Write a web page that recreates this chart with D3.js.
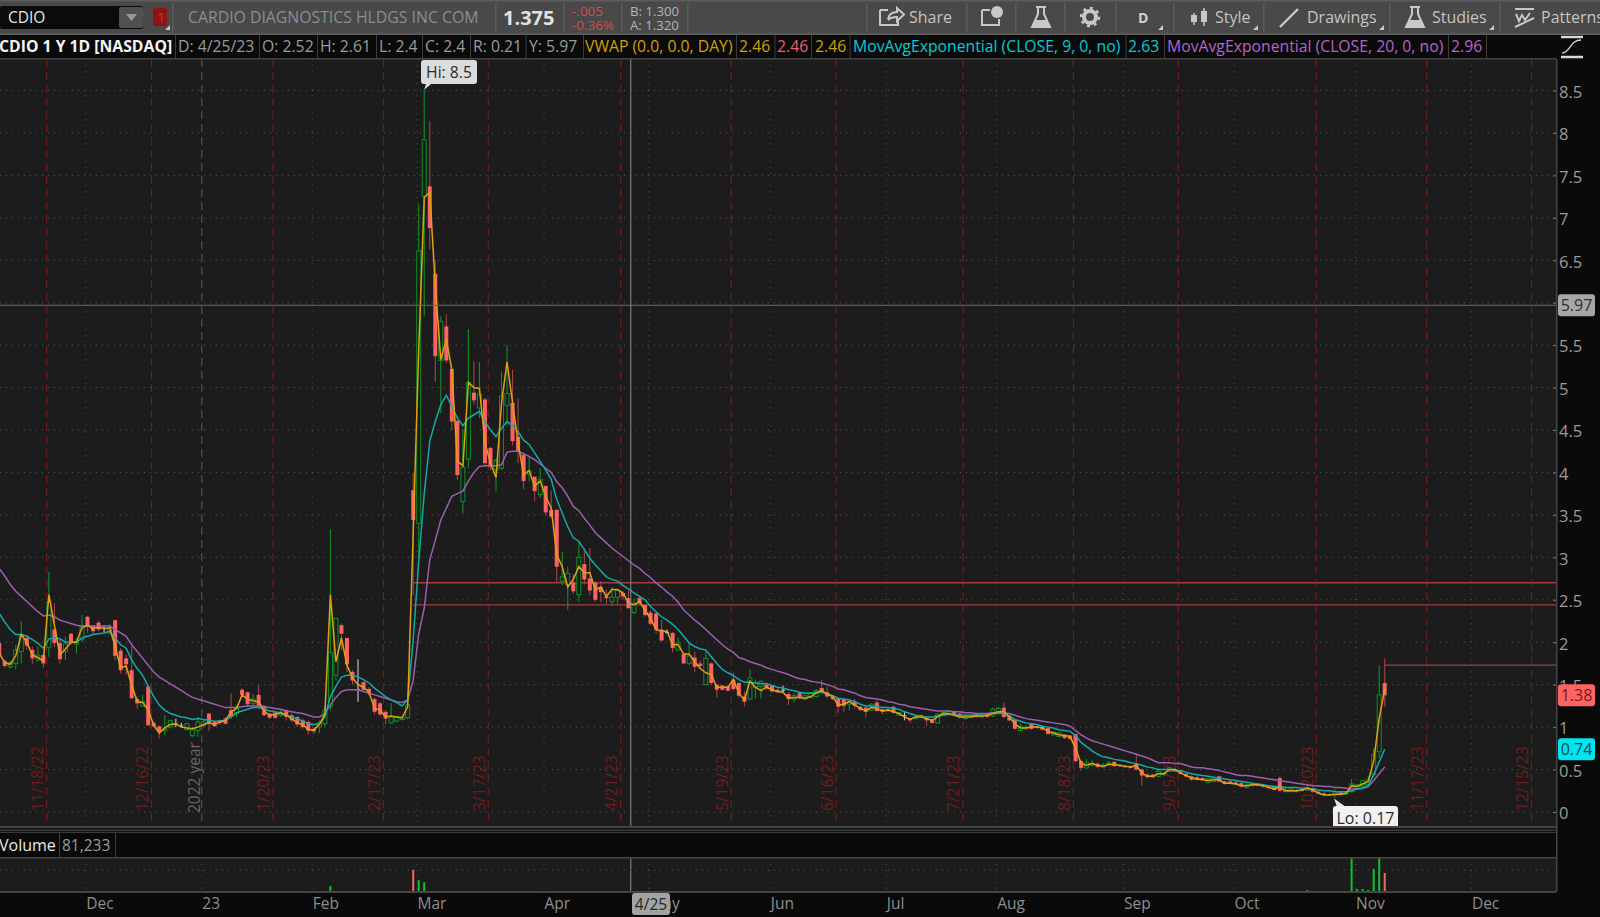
<!DOCTYPE html>
<html><head><meta charset="utf-8">
<script src="https://cdn.jsdelivr.net/npm/d3@7/dist/d3.min.js"></script>
<style>
html,body{margin:0;padding:0;background:#0a0a0a;overflow:hidden}
svg{display:block;font-family:"Open Sans",sans-serif}
</style></head><body>
<svg id="c" width="1600" height="917"></svg>
<script>
const open=[1.99,1.78,1.71,1.75,1.89,2.05,1.91,1.79,1.85,1.94,
2.15,1.99,1.89,2.10,1.98,2.03,2.30,2.19,2.23,2.17,
2.11,2.26,1.90,1.81,1.67,1.33,1.25,1.48,1.05,1.01,
.96,1.00,1.04,1.02,.97,.90,.96,1.02,1.16,1.06,
1.08,1.10,1.20,1.16,1.44,1.41,1.28,1.38,1.25,1.16,
1.17,1.14,1.20,1.14,1.12,1.08,1.06,.98,1.00,1.04,
1.24,1.61,2.20,2.05,1.65,1.45,1.53,1.45,1.33,1.28,
1.18,1.05,1.07,1.09,1.11,3.79,3.40,7.25,7.37,6.34,
5.32,5.72,5.22,4.61,3.66,4.16,4.94,4.76,4.86,4.29,
4.03,4.05,4.79,4.82,4.42,4.21,3.98,3.95,3.74,3.84,
3.56,3.56,2.72,2.68,2.70,2.56,2.92,2.75,2.70,2.65,
2.54,2.48,2.53,2.58,2.52,2.35,2.52,2.44,2.35,2.34,
2.15,2.12,2.11,1.91,1.86,1.75,1.82,1.75,1.50,1.75,
1.50,1.49,1.48,1.56,1.52,1.36,1.33,1.47,1.48,1.50,
1.49,1.44,1.44,1.39,1.33,1.40,1.33,1.35,1.36,1.46,
1.41,1.37,1.34,1.33,1.27,1.30,1.24,1.23,1.20,1.29,
1.21,1.21,1.24,1.14,1.14,1.10,1.10,1.14,1.11,1.09,
1.05,1.14,1.16,1.19,1.16,1.10,1.12,1.15,1.12,1.16,
1.13,1.18,1.23,1.14,1.09,.96,.98,1.04,1.01,1.01,
.99,.91,.89,.91,.90,.92,.60,.52,.55,.57,
.53,.57,.59,.55,.54,.54,.57,.50,.44,.44,
.42,.44,.48,.48,.48,.45,.42,.41,.40,.35,
.36,.42,.36,.36,.35,.34,.29,.31,.33,.31,
.30,.30,.40,.24,.24,.26,.27,.26,.28,.24,
.22,.21,.20,.23,.21,.24,.28,.30,.32,.44,.71,1.52];
const high=[2.02,1.80,1.78,1.97,2.25,2.09,1.95,1.95,1.87,2.83,
2.46,2.03,2.07,2.11,2.05,2.32,2.31,2.20,2.25,2.20,
2.22,2.26,1.93,1.85,1.95,1.36,1.38,1.49,1.07,1.02,
1.14,1.08,1.10,1.05,1.05,1.00,1.12,1.09,1.16,1.07,
1.09,1.12,1.40,1.26,1.46,1.42,1.39,1.50,1.26,1.17,
1.18,1.20,1.21,1.16,1.13,1.10,1.08,1.00,1.08,1.25,
3.33,2.28,2.22,2.05,1.67,1.80,1.54,1.47,1.35,1.30,
1.20,1.28,1.13,1.12,1.27,4.00,7.16,8.51,8.14,6.50,
5.84,5.86,5.22,4.61,4.51,5.69,5.31,5.30,4.88,4.30,
4.16,5.19,5.50,5.21,4.87,4.21,4.19,3.95,4.05,3.85,
3.79,3.56,3.07,2.89,2.80,3.18,3.11,3.11,2.72,2.72,
2.62,2.65,2.62,2.60,2.61,2.52,2.54,2.45,2.38,2.35,
2.26,2.15,2.12,2.05,1.87,1.99,1.89,1.78,1.90,1.76,
1.50,1.50,1.49,1.64,1.53,1.42,1.68,1.56,1.55,1.53,
1.50,1.46,1.49,1.41,1.40,1.41,1.38,1.41,1.45,1.56,
1.47,1.38,1.35,1.34,1.32,1.33,1.25,1.24,1.28,1.31,
1.22,1.22,1.25,1.18,1.19,1.11,1.13,1.15,1.12,1.10,
1.16,1.18,1.20,1.20,1.17,1.14,1.15,1.16,1.15,1.17,
1.23,1.24,1.29,1.15,1.10,1.04,1.02,1.05,1.02,1.02,
1.00,.95,.94,.92,.91,.92,.61,.62,.61,.58,
.58,.60,.60,.56,.55,.55,.68,.51,.45,.45,
.50,.47,.53,.52,.49,.46,.43,.42,.41,.40,
.41,.43,.37,.37,.36,.35,.33,.34,.34,.32,
.31,.31,.42,.30,.28,.27,.28,.33,.29,.25,
.23,.22,.27,.24,.24,.39,.33,.38,.42,.75,1.73,1.81];
const low=[1.82,1.70,1.69,1.68,1.75,1.91,1.74,1.77,1.70,1.83,
1.94,1.75,1.79,1.97,1.87,2.00,2.11,2.10,2.13,2.12,
2.09,1.79,1.63,1.61,1.33,1.22,1.24,1.02,1.00,.87,
.91,.98,1.00,1.00,.96,.88,.89,1.00,.95,1.00,
1.03,1.03,1.10,1.12,1.36,1.25,1.26,1.24,1.13,1.10,
1.10,1.12,1.08,1.06,1.00,.98,.91,.92,.93,1.00,
1.20,1.55,1.90,1.65,1.50,1.30,1.42,1.37,1.15,1.13,
1.03,1.04,1.06,1.08,1.10,2.55,3.00,5.84,6.63,5.07,
4.70,5.29,4.50,3.91,3.52,4.05,4.80,4.64,4.07,4.03,
3.78,4.03,4.55,4.32,4.11,3.80,3.90,3.66,3.70,3.50,
3.46,2.70,2.67,2.38,2.57,2.48,2.68,2.55,2.48,2.47,
2.45,2.43,2.44,2.50,2.40,2.33,2.44,2.30,2.20,2.10,
2.01,2.10,1.88,1.90,1.74,1.73,1.65,1.70,1.49,1.49,
1.35,1.43,1.42,1.43,1.35,1.24,1.32,1.34,1.34,1.44,
1.41,1.40,1.40,1.26,1.29,1.33,1.32,1.34,1.35,1.40,
1.35,1.32,1.17,1.18,1.20,1.22,1.19,1.12,1.19,1.18,
1.15,1.18,1.16,1.13,1.08,1.05,1.09,1.11,1.01,1.04,
1.04,1.13,1.15,1.13,1.10,1.09,1.11,1.11,1.11,1.11,
1.12,1.17,1.11,1.07,.97,.95,.97,.97,.98,.96,
.91,.90,.88,.86,.85,.58,.49,.51,.54,.52,
.52,.56,.53,.53,.52,.51,.49,.31,.40,.40,
.41,.43,.47,.47,.44,.41,.37,.37,.37,.34,
.35,.35,.32,.33,.32,.29,.28,.30,.30,.29,
.27,.25,.24,.23,.23,.23,.24,.25,.23,.21,
.19,.19,.17,.19,.20,.23,.27,.29,.31,.41,.64,1.24];
const close=[1.83,1.72,1.76,1.91,2.09,1.96,1.81,1.85,1.75,2.48,
1.99,1.80,1.98,1.99,2.00,2.19,2.19,2.13,2.15,2.17,
2.17,1.84,1.67,1.74,1.34,1.28,1.30,1.02,1.01,.95,
.98,1.08,1.04,1.02,1.04,.97,1.06,1.06,1.04,1.01,
1.05,1.04,1.12,1.22,1.38,1.27,1.33,1.25,1.14,1.11,
1.11,1.18,1.12,1.08,1.03,1.00,.96,.95,1.05,1.20,
1.88,2.28,2.10,1.74,1.55,1.45,1.44,1.40,1.18,1.15,
1.10,1.12,1.12,1.11,1.26,3.44,6.61,7.92,6.88,5.37,
5.78,5.32,4.60,3.97,4.06,5.06,4.85,4.92,4.11,4.07,
4.14,4.90,4.93,4.37,4.25,3.90,4.02,3.78,3.92,3.53,
3.48,2.89,2.77,2.81,2.60,3.00,2.74,2.61,2.50,2.59,
2.52,2.53,2.61,2.54,2.40,2.46,2.46,2.32,2.22,2.15,
2.02,2.12,1.93,1.99,1.75,1.84,1.71,1.72,1.81,1.52,
1.44,1.44,1.43,1.45,1.37,1.30,1.58,1.52,1.54,1.46,
1.42,1.41,1.44,1.33,1.37,1.34,1.37,1.40,1.43,1.41,
1.36,1.33,1.24,1.25,1.30,1.25,1.20,1.18,1.27,1.19,
1.18,1.19,1.17,1.17,1.14,1.08,1.12,1.12,1.08,1.05,
1.15,1.17,1.19,1.14,1.12,1.13,1.14,1.12,1.14,1.12,
1.21,1.22,1.12,1.08,.98,1.01,1.00,.98,.99,.97,
.92,.94,.93,.87,.86,.60,.52,.58,.57,.53,
.55,.58,.54,.54,.53,.52,.50,.43,.41,.41,
.48,.46,.52,.50,.45,.42,.38,.38,.38,.39,
.40,.36,.33,.34,.33,.30,.32,.33,.31,.30,
.28,.26,.25,.26,.27,.24,.25,.29,.24,.22,
.20,.20,.24,.20,.23,.33,.32,.37,.38,.67,1.38,1.375];
const vwap=[1.87,1.76,1.74,1.84,2.09,2.0,1.85,1.82,1.78,2.56,
2.2,1.85,1.92,2.0,2.0,2.17,2.2,2.16,2.18,2.16,
2.17,1.95,1.7,1.72,1.5,1.3,1.29,1.2,1.02,.93,
.99,1.03,1.04,1.0,.99,.98,1.0,1.03,1.05,1.03,
1.06,1.08,1.18,1.22,1.38,1.33,1.31,1.3,1.19,1.14,
1.15,1.17,1.14,1.1,1.05,1.03,.97,.97,1.03,1.15,
2.56,1.77,2.05,1.73,1.58,1.5,1.47,1.41,1.22,1.2,
1.12,1.13,1.12,1.11,1.24,3.29,5.45,7.24,7.3,6.2,
5.33,5.57,5.21,4.13,4.08,5.06,5.0,4.99,4.35,4.11,
3.94,4.82,5.3,4.82,4.35,3.97,4.02,3.84,3.9,3.72,
3.58,3.03,2.89,2.65,2.74,2.89,2.82,2.82,2.62,2.65,
2.54,2.62,2.62,2.58,2.46,2.44,2.48,2.38,2.28,2.15,
2.13,2.13,1.97,1.97,1.86,1.86,1.77,1.69,1.64,1.62,
1.47,1.47,1.47,1.56,1.4,1.32,1.54,1.47,1.43,1.47,
1.44,1.42,1.41,1.34,1.35,1.35,1.34,1.36,1.4,1.43,
1.39,1.36,1.26,1.27,1.3,1.26,1.22,1.19,1.23,1.22,
1.19,1.2,1.18,1.16,1.12,1.09,1.12,1.12,1.1,1.08,
1.12,1.16,1.16,1.14,1.12,1.12,1.12,1.13,1.13,1.14,
1.16,1.18,1.18,1.12,1.04,.99,.99,1.0,1.0,.99,
.95,.93,.91,.9,.89,.75,.57,.55,.57,.55,
.54,.56,.56,.55,.54,.53,.55,.46,.42,.42,
.45,.45,.5,.5,.46,.43,.4,.39,.38,.37,
.38,.38,.34,.34,.33,.31,.31,.32,.32,.31,
.29,.27,.3,.25,.25,.25,.26,.28,.26,.22,
.2,.2,.21,.21,.22,.31,.3,.33,.36,.6,1.1,1.45];
const ema9=[2.34,2.24,2.15,2.09,2.09,2.07,2.03,1.99,1.93,2.04,
2.05,2.04,2.0,2.0,2.0,2.05,2.07,2.09,2.1,2.11,
2.13,2.05,1.97,1.93,1.79,1.69,1.61,1.48,1.36,1.26,
1.2,1.16,1.14,1.12,1.11,1.09,1.1,1.09,1.08,1.07,
1.07,1.08,1.12,1.17,1.19,1.21,1.23,1.23,1.21,1.19,
1.18,1.16,1.14,1.12,1.1,1.07,1.04,1.03,1.04,1.12,
1.36,1.48,1.59,1.61,1.61,1.59,1.56,1.52,1.46,1.41,
1.36,1.32,1.29,1.25,1.32,2.03,2.95,3.75,4.37,4.6,
4.8,4.91,4.78,4.64,4.55,4.64,4.68,4.72,4.6,4.5,
4.42,4.52,4.6,4.55,4.48,4.38,4.33,4.23,4.13,4.03,
3.92,3.68,3.52,3.36,3.23,3.19,3.09,2.99,2.91,2.84,
2.77,2.74,2.72,2.67,2.63,2.58,2.54,2.5,2.42,2.36,
2.3,2.26,2.21,2.15,2.07,1.99,1.95,1.92,1.91,1.83,
1.75,1.68,1.64,1.61,1.56,1.53,1.53,1.52,1.51,1.51,
1.49,1.47,1.46,1.44,1.43,1.41,1.4,1.4,1.41,1.41,
1.39,1.37,1.34,1.33,1.32,1.3,1.27,1.25,1.25,1.24,
1.23,1.23,1.22,1.21,1.18,1.16,1.14,1.13,1.12,1.12,
1.13,1.14,1.15,1.15,1.14,1.14,1.14,1.14,1.14,1.14,
1.16,1.16,1.16,1.13,1.09,1.07,1.05,1.04,1.03,1.01,
1.0,.99,.97,.96,.95,.9,.82,.77,.72,.68,
.65,.64,.62,.61,.6,.58,.57,.55,.53,.52,
.5,.5,.5,.49,.49,.47,.45,.44,.43,.42,
.41,.4,.39,.38,.37,.36,.35,.34,.33,.32,
.31,.3,.3,.29,.29,.29,.28,.28,.27,.26,
.25,.25,.24,.24,.24,.25,.27,.28,.31,.44,.59,.74];
const ema20=[2.87,2.78,2.68,2.6,2.54,2.48,2.42,2.36,2.31,2.32,
2.3,2.26,2.24,2.22,2.2,2.19,2.19,2.19,2.19,2.19,
2.19,2.15,2.11,2.07,1.97,1.89,1.81,1.73,1.65,1.59,
1.55,1.51,1.47,1.43,1.39,1.35,1.33,1.31,1.29,1.27,
1.25,1.23,1.23,1.23,1.24,1.25,1.25,1.25,1.24,1.23,
1.22,1.21,1.19,1.18,1.17,1.16,1.14,1.12,1.12,1.16,
1.26,1.35,1.42,1.44,1.44,1.44,1.42,1.4,1.38,1.36,
1.34,1.32,1.3,1.29,1.32,1.55,2.1,2.4,2.97,3.2,
3.44,3.58,3.72,3.75,3.78,3.9,4.0,4.07,4.08,4.08,
4.08,4.09,4.24,4.25,4.25,4.22,4.19,4.15,4.1,4.05,
4.0,3.89,3.82,3.72,3.6,3.55,3.46,3.38,3.29,3.23,
3.17,3.11,3.06,3.01,2.96,2.91,2.87,2.81,2.76,2.7,
2.65,2.59,2.54,2.47,2.38,2.32,2.26,2.21,2.15,2.09,
2.03,1.97,1.92,1.88,1.82,1.8,1.77,1.75,1.73,1.7,
1.68,1.66,1.64,1.62,1.59,1.57,1.56,1.54,1.53,1.52,
1.5,1.48,1.45,1.44,1.42,1.4,1.37,1.35,1.34,1.33,
1.32,1.3,1.29,1.27,1.26,1.24,1.23,1.22,1.21,1.2,
1.19,1.19,1.19,1.18,1.18,1.17,1.17,1.16,1.16,1.16,
1.17,1.17,1.17,1.16,1.14,1.12,1.1,1.09,1.08,1.07,
1.06,1.05,1.04,1.03,1.01,.96,.91,.87,.84,.82,
.8,.78,.76,.74,.72,.7,.68,.66,.64,.61,
.58,.58,.58,.57,.57,.55,.53,.52,.52,.51,
.5,.49,.47,.46,.44,.43,.43,.42,.41,.4,
.39,.38,.37,.36,.35,.34,.33,.32,.31,.31,
.3,.3,.29,.29,.28,.27,.27,.28,.3,.37,.45,.53];
const volumeBars=[9,60,75,76,77,78,237,242,245,246,247,248,249,250,251];
const volumeVals=[3,18,65,35,29,3,6,3,100,9,9,6,68,100,56];
const priceTicks=[0,.5,1,1.5,2,2.5,3,3.5,4,4.5,5,5.5,6,6.5,7,7.5,8,8.5];
const monthDates=["2022-12-01","2023-01-03","2023-02-01","2023-03-01","2023-04-03","2023-05-01","2023-06-01","2023-07-03","2023-08-01","2023-09-01","2023-10-02","2023-11-01","2023-12-01"];
const monthLabels=["Dec","23","Feb","Mar","Apr","May","Jun","Jul","Aug","Sep","Oct","Nov","Dec"];
const expiryDates=["2022-11-18","2022-12-16","2023-01-20","2023-02-17","2023-03-17","2023-04-21","2023-05-19","2023-06-16","2023-07-21","2023-08-18","2023-09-15","2023-10-20","2023-11-17","2023-12-15"];
const expiryLabels=["11/18/22","12/16/22","1/20/23","2/17/23","3/17/23","4/21/23","5/19/23","6/16/23","7/21/23","8/18/23","9/15/23","10/20/23","11/17/23","12/15/23"];
const holidays=["2022-11-24","2022-12-26","2023-01-02","2023-01-16","2023-02-20","2023-04-07","2023-05-29","2023-06-19","2023-07-04","2023-09-04","2023-11-23","2023-12-25"];
const levelValues=[2.70,2.44,1.73];
const levelStarts=[75,75,251];
const crosshairDate="2023-04-25", crosshairPrice=5.97;

// trading calendar
const fmt=d3.utcFormat("%Y-%m-%d");
const days=d3.utcDay.range(new Date(Date.UTC(2022,10,8)),new Date(Date.UTC(2023,11,30)))
  .filter(d=>d.getUTCDay()%6!==0&&!holidays.includes(fmt(d))).map(fmt);
const idx=d=>days.indexOf(d);

const W=1600,H=917,plotR=1556,mainTop=59,mainBot=827,volTop=858,volBot=892;
const x=d3.scaleLinear().domain([0,days.length-1]).range([-0.8,-0.8+5.52*(days.length-1)]);
const y=d3.scaleLinear().domain([0,8.5]).range([812,90.5]);
const yV=d3.scaleLinear().domain([0,100]).range([volBot,volTop]);
const svg=d3.select("#c");
const defs=svg.append("defs");
defs.append("clipPath").attr("id","mc").append("rect").attr("x",0).attr("y",mainTop).attr("width",plotR).attr("height",mainBot-mainTop);
defs.append("clipPath").attr("id","vc").append("rect").attr("x",0).attr("y",volTop).attr("width",plotR).attr("height",volBot-volTop);
defs.append("clipPath").attr("id","rc").append("rect").attr("x",plotR).attr("y",volTop).attr("width",44).attr("height",volBot-volTop+1);
svg.append("rect").attr("width",W).attr("height",H).attr("fill","#0a0a0a");
svg.append("rect").attr("y",mainTop).attr("width",plotR).attr("height",mainBot-mainTop).attr("fill","#1c1c1c");
svg.append("rect").attr("y",volTop).attr("width",plotR).attr("height",volBot-volTop).attr("fill","#1c1c1c");
const main=svg.append("g").attr("clip-path","url(#mc)");
const dots="1 5";
// grid
main.selectAll(".hg").data(priceTicks).join("line").attr("x1",0).attr("x2",plotR).attr("y1",d=>y(d)).attr("y2",d=>y(d)).attr("stroke","#555").attr("stroke-dasharray",dots);
const monthX=d=>x(idx(d)-0.3);
main.selectAll(".vg").data(monthDates).join("line").attr("x1",monthX).attr("x2",monthX).attr("y1",mainTop).attr("y2",mainBot)
  .attr("stroke",d=>d==="2023-01-03"?"#5a5a5a":"#4c4c4c").attr("stroke-dasharray",d=>d==="2023-01-03"?"8 5":dots);
const exX=d=>x(idx(d)+0.6);
main.selectAll(".ex").data(expiryDates).join("line").attr("x1",exX).attr("x2",exX).attr("y1",mainTop).attr("y2",mainBot).attr("stroke","#701c1c").attr("stroke-width",1.2).attr("stroke-dasharray","8 5");
main.selectAll(".exl").data(expiryDates).join("text").text((d,i)=>expiryLabels[i])
  .attr("transform",d=>`translate(${exX(d)-3.5},811) rotate(-90)`).attr("fill","#6e1c1c").attr("font-size",15.5);
main.append("text").text("2022 year").attr("transform",`translate(${monthX("2023-01-03")-2},813) rotate(-90)`).attr("fill","#666").attr("font-size",15.5);
// level lines
main.selectAll(".lv").data(levelValues).join("line").attr("x1",(d,i)=>x(levelStarts[i])).attr("x2",plotR).attr("y1",d=>y(d)).attr("y2",d=>y(d)).attr("stroke","#a23c40").attr("stroke-width",1.4);
// candles
const candles=d3.range(open.length);
const col=i=>close[i]>open[i]?"#0e8f26":close[i]<open[i]?"#ff6264":"#c8c8c8";
const wick=i=>close[i]>open[i]?"#0e8f26":close[i]<open[i]?"#a04446":"#c8c8c8";
main.selectAll(".w").data(candles).join("line").attr("x1",x).attr("x2",x).attr("y1",i=>y(high[i])).attr("y2",i=>y(low[i])).attr("stroke",wick).attr("stroke-width",1.1);
main.selectAll(".b").data(candles).join("rect")
  .attr("x",i=>x(i)-2).attr("width",4)
  .attr("y",i=>y(Math.max(open[i],close[i]))).attr("height",i=>Math.max(1,Math.abs(y(open[i])-y(close[i]))))
  .attr("fill",i=>close[i]>open[i]?"#1c1c1c":col(i)).attr("stroke",i=>close[i]>open[i]?col(i):"none").attr("stroke-width",1);
// studies
const line=a=>d3.line().x((d,i)=>x(i)).y(d=>y(d))(a);
main.append("path").attr("d",line(ema20)).attr("fill","none").attr("stroke","#9c5fae").attr("stroke-width",1.5);
main.append("path").attr("d",line(ema9)).attr("fill","none").attr("stroke","#14a9a8").attr("stroke-width",1.5);
main.append("path").attr("d",line(vwap)).attr("fill","none").attr("stroke","#dfa112").attr("stroke-width",1.5);
// crosshair
const chX=x(idx(crosshairDate)+0.42);
svg.append("line").attr("x1",0).attr("x2",plotR).attr("y1",y(crosshairPrice)).attr("y2",y(crosshairPrice)).attr("stroke","#6a6a6a");
svg.append("line").attr("x1",chX).attr("x2",chX).attr("y1",mainTop).attr("y2",volBot).attr("stroke","#8c8c8c");
// Lo callout, clipped by the pane edge
main.append("path").attr("d",`M${x(242)-1},${y(low[242])+1} L1337,807 L1346,807 Z`).attr("fill","#e4e4e4");
main.append("rect").attr("x",1333).attr("y",806).attr("width",65).attr("height",26).attr("rx",3).attr("fill","#f0f0f0");
main.append("text").text("Lo: 0.17").attr("x",1365.5).attr("y",824).attr("text-anchor","middle").attr("fill","#2a2a2a").attr("font-size",16);
// separators
svg.append("rect").attr("y",mainBot-1).attr("width",plotR).attr("height",2).attr("fill","#444");
svg.append("rect").attr("y",mainBot+1).attr("width",plotR).attr("height",5).attr("fill","#111");
svg.append("rect").attr("y",mainBot+2.5).attr("width",plotR).attr("height",1.5).attr("fill","#3a3a3a");
svg.append("rect").attr("x",plotR).attr("y",mainTop).attr("width",1.5).attr("height",volBot-mainTop).attr("fill","#444");
// volume pane
const vol=svg.append("g").attr("clip-path","url(#vc)");
vol.append("line").attr("x1",0).attr("x2",plotR).attr("y1",yV(65)).attr("y2",yV(65)).attr("stroke","#555").attr("stroke-dasharray",dots);
vol.selectAll(".vg").data(monthDates).join("line").attr("x1",monthX).attr("x2",monthX).attr("y1",volTop).attr("y2",volBot).attr("stroke","#4c4c4c").attr("stroke-dasharray",dots);
vol.selectAll(".vb").data(volumeBars).join("rect").attr("x",i=>x(i)-1).attr("width",2)
  .attr("y",(d,k)=>yV(volumeVals[k])).attr("height",(d,k)=>volBot-yV(volumeVals[k]))
  .attr("fill",i=>close[i]>open[i]?"#0fc034":"#ff6264");
svg.append("rect").attr("y",volTop-1).attr("width",plotR).attr("height",1.5).attr("fill","#444");
svg.append("rect").attr("y",volBot-1).attr("width",plotR).attr("height",2).attr("fill","#444");
// volume header
svg.append("rect").attr("y",832).attr("width",plotR).attr("height",25).attr("fill","#0a0a0a");
svg.append("rect").attr("y",832).attr("width",plotR).attr("height",1).attr("fill","#3a3a3a");
[59,115].forEach(v=>svg.append("rect").attr("x",v).attr("y",833).attr("width",1).attr("height",24).attr("fill","#3c3c3c"));
svg.append("text").text("Volume").attr("x",-1).attr("y",851).attr("fill","#e8e8e8").attr("font-size",16);
svg.append("text").text("81,233").attr("x",62).attr("y",851).attr("fill","#9a9a9a").attr("font-size",15.5);
// axes
const pa=d3.axisRight(y).tickValues(priceTicks).tickSize(3).tickPadding(1).tickFormat(d3.format("~g"));
const pg=svg.append("g").attr("transform",`translate(${plotR},0)`).call(pa);
pg.select(".domain").remove();
pg.selectAll("line").attr("x1",-3).attr("x2",0).attr("stroke","#777");
pg.selectAll("text").attr("x",3).attr("y",1.5).attr("fill","#9c9c9c").attr("font-size",16.5).attr("font-family","'Open Sans'");
const va=d3.axisRight(yV).tickValues([0]).tickSize(0).tickFormat(d3.format("d"));
const vg=svg.append("g").attr("transform",`translate(${plotR},0)`).attr("clip-path","url(#rc)").call(va);
vg.select(".domain").remove();
vg.selectAll("text").attr("x",3).attr("fill","#9c9c9c").attr("font-size",16.5).attr("font-family","'Open Sans'");
const monthIdx=monthDates.map(d=>idx(d)-0.3);
const xa=d3.axisBottom(x).tickValues(monthIdx).tickSize(0).tickFormat((d,i)=>monthLabels[i]);
const xg=svg.append("g").attr("transform","translate(0,893)").call(xa);
xg.select(".domain").remove();
xg.selectAll("text").attr("x",0).attr("y",5).attr("dy",".71em").attr("text-anchor","start").attr("fill","#8e8e8e").attr("font-size",15.5).attr("font-family","'Open Sans'");
// tags
function tag(xx,yy,w,h,bg,fg,t,fs){svg.append("rect").attr("x",xx).attr("y",yy).attr("width",w).attr("height",h).attr("rx",3).attr("fill",bg);
 svg.append("text").text(t).attr("x",xx+w/2).attr("y",yy+h/2+fs*0.36).attr("text-anchor","middle").attr("fill",fg).attr("font-size",fs);}
tag(1558,y(5.97)-11,37,22,"#a6a6a6","#2e2e2e","5.97",16);
tag(1558,y(close[251])-11,37,22,"#ff6264","#6e1f20","1.38",16);
tag(1558,y(ema9[251])-11,37,22,"#00e4ee","#0a4a50","0.74",16);
tag(632,893,38,22,"#a3a3a3","#262626","4/25",15.5);
// Hi callout
svg.append("path").attr("d",`M${x(77)},${y(high[77])} L${x(77)+2},83 L${x(77)+8},83 Z`).attr("fill","#dcdcdc");
tag(421,60,56,24,"#dcdcdc","#2a2a2a","Hi: 8.5",15.7);

// top toolbar
const tb=svg.append("g");
tb.append("rect").attr("width",W).attr("height",34).attr("fill","#494949");
tb.append("rect").attr("y",0).attr("width",W).attr("height",1.5).attr("fill","#5c5c5c");
tb.append("rect").attr("y",33).attr("width",W).attr("height",2).attr("fill","#5a5a5a");
tb.append("rect").attr("x",0).attr("y",6).attr("width",143).attr("height",23).attr("rx",2).attr("fill","#0b0b0b");
tb.append("rect").attr("x",119).attr("y",7).attr("width",24).attr("height",21).attr("rx",2).attr("fill","#505050");
tb.append("path").attr("d","M126,14 L137,14 L131.5,21 Z").attr("fill","#9a9a9a");
tb.append("text").text("CDIO").attr("x",8).attr("y",23).attr("fill","#e6e6e6").attr("font-size",15.5);
tb.append("rect").attr("x",153).attr("y",8).attr("width",14).attr("height",18).attr("rx",2).attr("fill","#8e1414");
tb.append("text").text("1").attr("x",157).attr("y",23).attr("fill","#c03030").attr("font-size",15);
tb.selectAll(".sp").data([172,495,563,621,687,866,966,1015,1064,1115,1173,1263,1389,1499]).join("rect").attr("x",d=>d).attr("y",3).attr("width",1.5).attr("height",29).attr("fill","#5c5c5c");
function tt(t,xx,yy,c,fs,w){return tb.append("text").text(t).attr("x",xx).attr("y",yy).attr("fill",c).attr("font-size",fs).attr("font-weight",w||400);}
tt("CARDIO DIAGNOSTICS HLDGS INC COM",188,23,"#8d8d8d",15.8);
tt("1.375",503,25,"#e2e2e2",20,700);
tt("-.005",572,16,"#d84a4a",13.5);tt("-0.36%",572,30,"#d84a4a",13.5);
tt("B: 1.300",630,16,"#b4b4b4",13.2);tt("A: 1.320",630,30,"#b4b4b4",13.2);
tt("Share",909,23,"#c4c4c4",16);tt("D",1138,23,"#d0d0d0",14,700);tt("Style",1215,23,"#c4c4c4",16);
tt("Drawings",1307,23,"#c4c4c4",16);tt("Studies",1432,23,"#c4c4c4",16);tt("Patterns",1541,23,"#c4c4c4",16);
const ic="#c8c8c8";
tb.append("path").attr("d","M880,10 h8 M880,10 v15 h18 v-6 M888,19 c1,-5 4,-7 9,-7 v-4 l7,6.5 l-7,6.5 v-4 c-4,0 -7,1 -9,3").attr("fill","none").attr("stroke",ic).attr("stroke-width",2);
tb.append("path").attr("d","M982,10 h8 M982,10 v15 h17 v-6").attr("fill","none").attr("stroke",ic).attr("stroke-width",2);
tb.append("circle").attr("cx",997).attr("cy",12).attr("r",6).attr("fill",ic);
tb.append("path").attr("d","M1036,7 h10 M1038,7 v7 l-6,13 h18 l-6,-13 v-7").attr("fill","none").attr("stroke",ic).attr("stroke-width",2);
tb.append("path").attr("d","M1035,20 h12 l3,7 h-18 Z").attr("fill",ic);
tb.append("circle").attr("cx",1090).attr("cy",17).attr("r",6).attr("fill","none").attr("stroke",ic).attr("stroke-width",4);
tb.append("circle").attr("cx",1090).attr("cy",17).attr("r",9).attr("fill","none").attr("stroke",ic).attr("stroke-width",2.4).attr("stroke-dasharray","3 4");
tb.append("path").attr("d","M1194,13 v12 M1204,8 v18").attr("stroke",ic).attr("stroke-width",1.5);
tb.append("rect").attr("x",1191).attr("y",15).attr("width",6).attr("height",7).attr("fill",ic);
tb.append("rect").attr("x",1201).attr("y",11).attr("width",6).attr("height",11).attr("fill",ic);
tb.append("path").attr("d","M1280,27 L1298,9").attr("stroke",ic).attr("stroke-width",2.4);
tb.append("path").attr("d","M1410,7 h10 M1412,7 v7 l-6,13 h18 l-6,-13 v-7").attr("fill","none").attr("stroke",ic).attr("stroke-width",2);
tb.append("path").attr("d","M1409,20 h12 l3,7 h-18 Z").attr("fill",ic);
tb.append("path").attr("d","M1515,9 h19 M1516,14 l3,7 l3,-6 l3,5 l5,-7 M1515,27 l19,-9").attr("fill","none").attr("stroke",ic).attr("stroke-width",2);
// corner triangles
tb.selectAll(".tri").data([170,1163,1258,1384,1494]).join("path").attr("d",d=>`M${d},30 l-5,0 l5,-5 Z`).attr("fill","#c8c8c8");
// study bar
const sb=svg.append("g");
sb.append("rect").attr("y",35).attr("width",1484).attr("height",24).attr("fill","#0a0a0a");
sb.append("rect").attr("y",58).attr("width",plotR).attr("height",1.5).attr("fill","#444");
sb.selectAll(".sp").data([175,259,317,376,422,470,525.5,583,736,774.5,811,849.5,1125.5,1164,1448,1486]).join("rect").attr("x",d=>d).attr("y",35).attr("width",1).attr("height",23).attr("fill","#3c3c3c");
const cells=[["CDIO 1 Y 1D [NASDAQ]",-1,"#f4f4f4",700],["D: 4/25/23",178,"#9a9a9a"],["O: 2.52",262,"#9a9a9a"],["H: 2.61",320,"#9a9a9a"],["L: 2.4",379,"#9a9a9a"],["C: 2.4",425,"#9a9a9a"],["R: 0.21",473,"#9a9a9a"],["Y: 5.97",529,"#9a9a9a"],["VWAP (0.0, 0.0, DAY)",585,"#d2a100"],["2.46",739,"#d2a100"],["2.46",777,"#ef5f6e"],["2.46",815,"#d2a100"],["MovAvgExponential (CLOSE, 9, 0, no)",853,"#00cdd6"],["2.63",1128,"#00cdd6"],["MovAvgExponential (CLOSE, 20, 0, no)",1167,"#b862cc"],["2.96",1451,"#b862cc"]];
sb.selectAll(".t").data(cells).join("text").text(d=>d[0]).attr("x",d=>d[1]).attr("y",52).attr("fill",d=>d[2]).attr("font-size",15.75).attr("font-weight",d=>d[3]||400);
sb.append("path").attr("d","M1561,37 h22 M1561,57 h22").attr("stroke","#d8d8d8").attr("stroke-width",2.4);
sb.append("path").attr("d","M1562,53 c8,0 8,-13 19,-13").attr("fill","none").attr("stroke","#d8d8d8").attr("stroke-width",1.3);
</script>
</body></html>
